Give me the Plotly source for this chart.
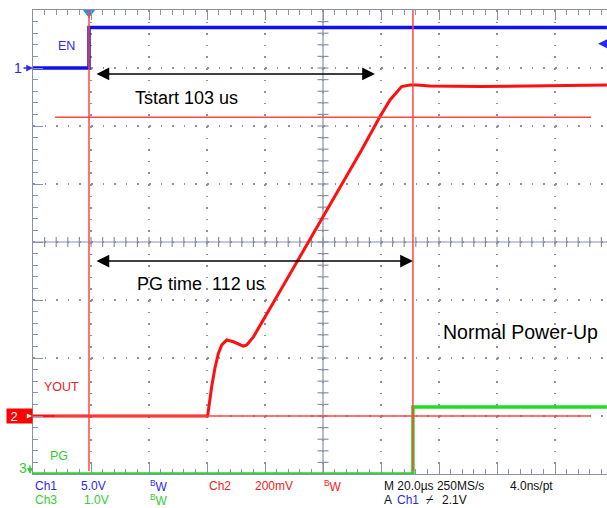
import plotly.graph_objects as go

# ---------------- data ----------------
# time in microseconds relative to trigger, voltages in volts
en_t = [-19.3, 0.0, 0.0, 178.6]
en_v = [0.0, 0.0, 3.5, 3.5]

vout_t = [-19.3, 40.9, 42.3, 43.4, 44.6, 45.8, 47.5, 49.8, 53.2, 54.4, 56.7, 60.1,
          64.1, 94.0, 100.3, 103.8, 106.1, 107.8, 110.7, 113.0, 117.6, 134.8, 178.6]
vout_v = [0.0, 0.0, 0.101, 0.164, 0.216, 0.245, 0.262, 0.256, 0.241, 0.245, 0.273, 0.331,
          0.400, 0.917, 1.032, 1.090, 1.118, 1.136, 1.141, 1.141, 1.138, 1.136, 1.141]

pg_t = [-19.3, 111.7, 111.7, 178.6]
pg_v = [0.0, 0.0, 1.155, 1.155]

ch_scale = {"EN": 5.0, "VOUT": 0.2, "PG": 1.0}   # V/div
ch_offset = {"EN": 3.0, "VOUT": -3.0, "PG": -4.0}  # div position of ground marker

cursor_t = [0.0, 111.7]        # vertical cursors (us)
cursor_vout = [1.03, 0.0]      # horizontal cursors on Ch2 (V)
trig_t = 0.0
trig_level = 2.1               # V on Ch1

bottom_row1 = [("Ch1", "ch1"), ("5.0V", "ch1"), ("<sup>B</sup>W", "ch1"), ("Ch2", "ch2"),
               ("200mV", "ch2"), ("<sup>B</sup>W", "ch2"), ("M 20.0µs 250MS/s", "k"), ("4.0ns/pt", "k")]
bottom_row2 = [("Ch3", "ch3"), ("1.0V", "ch3"), ("<sup>B</sup>W", "ch3"), ("A", "k"),
               ("Ch1", "ch1"), ("⌿", "k"), ("2.1V", "k")]

# ---------------- style ----------------
W, H = 607, 508
L, T, R_, B = 33, 10, 607, 474
PX_PER_US = 2.9
T_LEFT = -19.31
T_RIGHT = T_LEFT + (R_ - L) / PX_PER_US
T_CENTER = T_LEFT + 100.0
GRID = "#8A90AA"
BLUE = "#1010F0"
RED = "#FF1010"
GREEN = "#22DD22"
CUR = "#FF4545"
FONT = "Liberation Sans, Arial, sans-serif"
TXT = {"ch1": "#2A2AEE", "ch2": "#EE2222", "ch3": "#33CC33", "k": "#111111"}


def px(x):
    return (x - L) / (R_ - L)


def py(y):
    return (B - y) / (B - T)


def to_div(vals, ch):
    return [ch_offset[ch] + v / ch_scale[ch] for v in vals]


fig = go.Figure()

fig.add_trace(go.Scatter(x=en_t, y=to_div(en_v, "EN"), mode="lines",
                         line=dict(color=BLUE, width=3.5), hoverinfo="skip"))
fig.add_trace(go.Scatter(x=pg_t, y=to_div(pg_v, "PG"), mode="lines",
                         line=dict(color=GREEN, width=3.5), hoverinfo="skip", cliponaxis=False))
fig.add_trace(go.Scatter(x=vout_t, y=to_div(vout_v, "VOUT"), mode="lines",
                         line=dict(color=RED, width=3), hoverinfo="skip"))
# trigger position marker
fig.add_trace(go.Scatter(x=[trig_t], y=[3.957], mode="markers", cliponaxis=False,
                         marker=dict(symbol="triangle-down", size=11, color="#2A8FE6"),
                         hoverinfo="skip"))

shapes = []
# center cross lines
shapes.append(dict(type="line", xref="x", yref="y", x0=T_CENTER, x1=T_CENTER, y0=-4, y1=4,
                   line=dict(color=GRID, width=1.2), layer="below"))
shapes.append(dict(type="line", xref="x", yref="y", x0=T_LEFT, x1=T_RIGHT, y0=0, y1=0,
                   line=dict(color=GRID, width=1.2), layer="below"))
for k in range(1, 50):
    t = T_LEFT + 4 * k
    shapes.append(dict(type="line", xref="x", yref="y", ysizemode="pixel", yanchor=0,
                       x0=t, x1=t, y0=-5, y1=5, line=dict(color=GRID, width=1.2), layer="below"))
for k in range(1, 40):
    y = -4 + 0.2 * k
    shapes.append(dict(type="line", xref="x", yref="y", xsizemode="pixel", xanchor=T_CENTER,
                       x0=-5.5, x1=5.5, y0=y, y1=y, line=dict(color=GRID, width=1.2), layer="below"))
# cursors
for ct in cursor_t:
    shapes.append(dict(type="line", xref="x", yref="y", x0=ct, x1=ct, y0=4, y1=-3.95,
                       line=dict(color=CUR, width=1.5), layer="above"))
for cv in cursor_vout:
    yv = to_div([cv], "VOUT")[0]
    shapes.append(dict(type="line", xref="x", yref="y", x0=-11.7, x1=173.1, y0=yv, y1=yv,
                       line=dict(color=CUR, width=1.5), layer="above"))

ann = []
# measurement arrows
ann.append(dict(x=98.6, y=2.897, ax=2.07, ay=2.897, xref="x", yref="y", axref="x", ayref="y",
                text="", showarrow=True, arrowhead=2, startarrowhead=2, arrowside="end+start",
                arrowwidth=1.5, arrowsize=1.7, startarrowsize=1.7, arrowcolor="black",
                standoff=0, startstandoff=0))
ann.append(dict(x=cursor_t[1], y=-0.328, ax=2.07, ay=-0.328, xref="x", yref="y", axref="x", ayref="y",
                text="", showarrow=True, arrowhead=2, startarrowhead=2, arrowside="end+start",
                arrowwidth=1.5, arrowsize=1.7, startarrowsize=1.7, arrowcolor="black",
                standoff=0, startstandoff=0))
big = dict(family=FONT, size=18, color="black")
ann.append(dict(x=px(133), y=py(98), xref="paper", yref="paper", text="Tstart 103 us",
                showarrow=False, xanchor="left", yanchor="middle", font=big))
ann.append(dict(x=px(135), y=py(284), xref="paper", yref="paper", text="PG time  112 us",
                showarrow=False, xanchor="left", yanchor="middle", font=big))
ann.append(dict(x=px(441), y=py(332), xref="paper", yref="paper", text="Normal Power-Up",
                showarrow=False, xanchor="left", yanchor="middle",
                font=dict(family=FONT, size=19.5, color="black")))

# channel labels
lab = dict(xref="paper", yref="paper", showarrow=False, xanchor="center", yanchor="middle")
ann.append(dict(x=px(66), y=py(46), text="EN", font=dict(family=FONT, size=12.5, color="#2A2AEE"), **lab))
ann.append(dict(x=px(61), y=py(387), text="YOUT", font=dict(family=FONT, size=12.5, color="#EE2222"), **lab))
ann.append(dict(x=px(59), y=py(456), text="PG", font=dict(family=FONT, size=12.5, color="#33CC33"), **lab))

# ground markers
ann.append(dict(x=0, y=ch_offset["EN"], xref="paper", yref="y", text="1", showarrow=True,
                ax=-15, ay=0, arrowhead=2, arrowsize=0.9, arrowwidth=1.5, arrowcolor="#2A2AEE",
                standoff=0, font=dict(family=FONT, size=14, color="#2A2AEE")))
ann.append(dict(x=0, y=ch_offset["VOUT"], xref="paper", yref="y", text="2&nbsp;&nbsp;&nbsp;",
                showarrow=False, xanchor="right", yanchor="middle", align="center",
                bgcolor="#FF0000", borderpad=0, width=25, height=14,
                font=dict(family=FONT, size=13, color="white")))
ann.append(dict(x=px(32), y=ch_offset["VOUT"], xref="paper", yref="y", text="",
                ax=-6, ay=0, showarrow=True, arrowhead=2, arrowsize=0.8, arrowwidth=1.3,
                arrowcolor="white", standoff=0))
ann.append(dict(x=px(23), y=py(468), text="3", font=dict(family=FONT, size=14, color="#33CC33"), **lab))
ann.append(dict(x=px(30), y=py(474), ax=0, ay=-10, xref="paper", yref="paper", text="",
                showarrow=True, arrowhead=2, arrowsize=0.8, arrowwidth=1.5,
                arrowcolor="#33CC33", standoff=0))
# trigger level arrow
ann.append(dict(x=px(598), y=ch_offset["EN"] + trig_level / ch_scale["EN"], xref="paper", yref="y",
                ax=10, ay=0, text="", showarrow=True, arrowhead=2, arrowsize=1.0, arrowwidth=2.5,
                arrowcolor="#2A2AEE", standoff=0))

# bottom readout
row1_x = [33, 79, 148, 207, 253, 322, 382, 508]
row2_x = [33, 82, 148, 382, 395, 424, 440]
for (txt, c), xx in zip(bottom_row1, row1_x):
    ann.append(dict(x=px(xx), y=py(486), xref="paper", yref="paper", text=txt, showarrow=False,
                    xanchor="left", yanchor="middle", font=dict(family=FONT, size=12, color=TXT[c])))
for (txt, c), xx in zip(bottom_row2, row2_x):
    ann.append(dict(x=px(xx), y=py(500), xref="paper", yref="paper", text=txt, showarrow=False,
                    xanchor="left", yanchor="middle", font=dict(family=FONT, size=12, color=TXT[c])))

fig.update_layout(
    width=W, height=H, autosize=False,
    margin=dict(l=L, r=W - R_, t=T, b=H - B, pad=0),
    paper_bgcolor="white", plot_bgcolor="white",
    showlegend=False, hovermode=False,
    shapes=shapes, annotations=ann,
    xaxis=dict(range=[T_LEFT, T_RIGHT], showticklabels=False, zeroline=False,
               showline=True, linecolor=GRID, linewidth=1.2, mirror="ticks",
               ticks="inside", ticklen=10, tickcolor=GRID, tickwidth=1.2,
               tick0=T_LEFT, dtick=20,
               showgrid=True, gridcolor=GRID, gridwidth=1.5, griddash="1.5px,10.1px",
               minor=dict(ticks="inside", ticklen=5, tickcolor=GRID, tickwidth=1.2,
                          tick0=T_LEFT, dtick=4, showgrid=False)),
    yaxis=dict(range=[-4, 4], showticklabels=False, zeroline=False,
               showline=True, linecolor=GRID, linewidth=1.2,
               ticks="inside", ticklen=10, tickcolor=GRID, tickwidth=1.2,
               tick0=-4, dtick=1,
               showgrid=True, gridcolor=GRID, gridwidth=1.5, griddash="1.5px,10.1px",
               minor=dict(ticks="inside", ticklen=5, tickcolor=GRID, tickwidth=1.2,
                          tick0=-4, dtick=0.2, showgrid=False)),
)

fig.write_html("out.html", config={"displayModeBar": False},
               post_script="document.body.style.margin='0';document.body.style.overflow='hidden';")
